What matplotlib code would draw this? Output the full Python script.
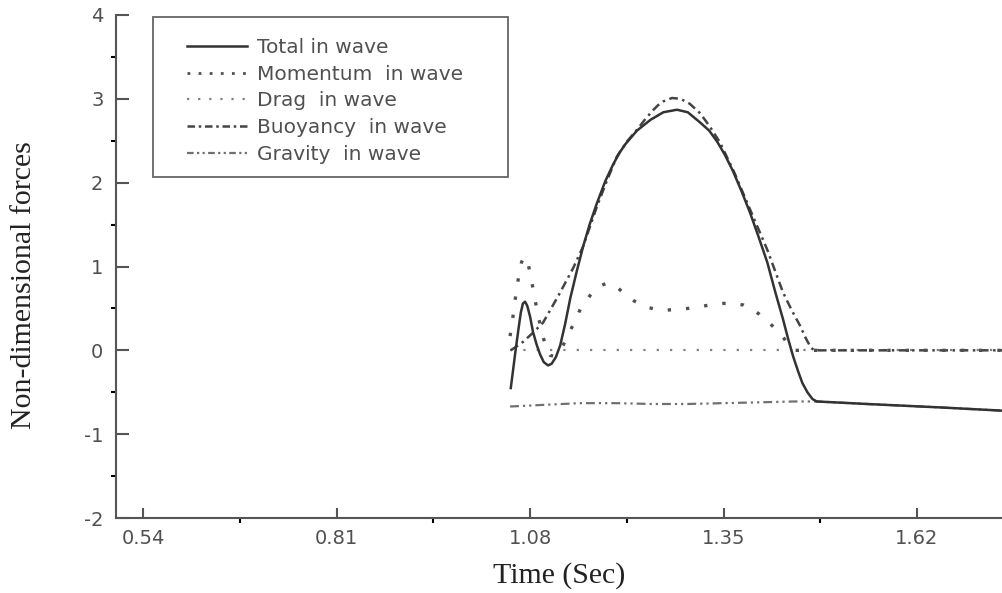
import matplotlib
matplotlib.use("Agg")
import matplotlib.pyplot as plt
from matplotlib.lines import Line2D
from matplotlib.patches import Rectangle

plt.rcParams["axes.unicode_minus"] = False

# data
total_t = [1.053, 1.056, 1.060, 1.064, 1.067, 1.070, 1.073, 1.076, 1.080, 1.084,
           1.089, 1.094, 1.099, 1.105, 1.110, 1.116, 1.122, 1.129, 1.136, 1.145,
           1.154, 1.163, 1.173, 1.185, 1.196, 1.205, 1.213, 1.229, 1.248, 1.266,
           1.285, 1.300, 1.317, 1.330, 1.341, 1.352, 1.363, 1.375, 1.387, 1.399,
           1.411, 1.422, 1.433, 1.440, 1.447, 1.454, 1.460, 1.467, 1.474, 1.480,
           1.55, 1.65, 1.74]
total_f = [-0.45, -0.25, 0.02, 0.27, 0.45, 0.56, 0.58, 0.53, 0.40, 0.22,
           0.07, -0.05, -0.14, -0.18, -0.16, -0.08, 0.06, 0.32, 0.62, 0.94,
           1.24, 1.50, 1.75, 2.02, 2.22, 2.36, 2.46, 2.62, 2.75, 2.84,
           2.87, 2.84, 2.72, 2.62, 2.49, 2.33, 2.14, 1.90, 1.64, 1.35,
           1.05, 0.70, 0.37, 0.14, -0.07, -0.25, -0.39, -0.50, -0.58, -0.61,
           -0.64, -0.68, -0.72]

mom_t = [1.052, 1.056, 1.060, 1.064, 1.068, 1.071, 1.074, 1.077, 1.081, 1.086,
         1.092, 1.098, 1.103, 1.108, 1.113, 1.119, 1.126, 1.138, 1.150, 1.165,
         1.178, 1.187, 1.197, 1.210, 1.225, 1.240, 1.255, 1.270, 1.290, 1.310,
         1.330, 1.350, 1.365, 1.378, 1.390, 1.400, 1.411, 1.422, 1.433, 1.443,
         1.450, 1.55, 1.65, 1.74]
mom_f = [0.17, 0.40, 0.66, 0.88, 1.05, 1.11, 1.11, 1.04, 0.88, 0.64,
         0.38, 0.16, 0.02, -0.06, -0.07, -0.03, 0.06, 0.27, 0.49, 0.67,
         0.77, 0.80, 0.78, 0.69, 0.59, 0.52, 0.49, 0.48, 0.49, 0.51,
         0.54, 0.56, 0.56, 0.54, 0.49, 0.43, 0.35, 0.26, 0.16, 0.03,
         0.0, 0.0, 0.0, 0.0]

drag_t = [1.052, 1.20, 1.35, 1.50, 1.74]
drag_f = [0.0, 0.0, 0.0, 0.0, 0.0]

buoy_t = [1.053, 1.070, 1.084, 1.098, 1.120, 1.140, 1.154, 1.173, 1.187, 1.201,
          1.215, 1.229, 1.240, 1.250, 1.258, 1.266, 1.278, 1.290, 1.303, 1.317,
          1.330, 1.345, 1.365, 1.387, 1.411, 1.433, 1.445, 1.457, 1.465, 1.472,
          1.477, 1.55, 1.65, 1.74]
buoy_f = [0.0, 0.10, 0.21, 0.33, 0.66, 0.98, 1.24, 1.71, 2.02, 2.31,
          2.49, 2.63, 2.75, 2.85, 2.92, 2.97, 3.01, 3.00, 2.94, 2.83,
          2.68, 2.48, 2.12, 1.68, 1.20, 0.69, 0.48, 0.29, 0.14, 0.03,
          0.0, 0.0, 0.0, 0.0]

grav_t = [1.052, 1.10, 1.15, 1.20, 1.25, 1.30, 1.35, 1.40, 1.45, 1.48, 1.55, 1.65, 1.74]
grav_f = [-0.67, -0.65, -0.63, -0.63, -0.64, -0.64, -0.63, -0.62, -0.61, -0.61, -0.64, -0.68, -0.72]

labels = ["Total in wave", "Momentum  in wave", "Drag  in wave",
          "Buoyancy  in wave", "Gravity  in wave"]
x_ticks = [0.54, 0.81, 1.08, 1.35, 1.62]
y_ticks = [-2, -1, 0, 1, 2, 3, 4]

fig = plt.figure(figsize=(10.03, 5.93), dpi=100)
ax = fig.add_axes([116/1003, 75/593, 887/1003, 503/593])

ax.plot(grav_t, grav_f, color="#707070", lw=1.6, dashes=(4, 1.8, 1, 1.8, 1, 1.8))
ax.plot(drag_t, drag_f, color="#808080", lw=1.6, dashes=(1, 5))
ax.plot(buoy_t, buoy_f, color="#444444", lw=1.8, dashes=(3.5, 1.8, 1, 1.8))
ax.plot(mom_t, mom_f, color="#505050", lw=2.4, dashes=(1, 4.5))
ax.plot(total_t, total_f, color="#333333", lw=1.8)

ax.set_xlim(0.502, 1.74)
ax.set_ylim(-2, 4)
ax.set_xticks(x_ticks)
ax.set_xticklabels([f"{v:.2f}" for v in x_ticks])
ax.set_xticks([0.675, 0.945, 1.215, 1.485], minor=True)
ax.set_yticks(y_ticks)
ax.set_yticks([-1.5, -0.5, 0.5, 1.5, 2.5, 3.5], minor=True)

for s in ["top", "right"]:
    ax.spines[s].set_visible(False)
for s in ["left", "bottom"]:
    ax.spines[s].set_color("#555555")
    ax.spines[s].set_linewidth(1.5)

ax.tick_params(direction="in", colors="#555555", labelcolor="#505050",
               labelsize=14, width=1.5)
ax.tick_params(axis="y", which="major", length=9.5, pad=9)
ax.tick_params(axis="y", which="minor", length=3.8, width=1.5)
ax.tick_params(axis="x", which="major", length=7.5, pad=8)
ax.tick_params(axis="x", which="minor", length=3.8, width=1.5)

ax.set_xlabel("Time (Sec)", family="Liberation Serif", fontsize=21.5, color="#222222")
ax.set_ylabel("Non-dimensional forces", family="Liberation Serif", fontsize=21.5, color="#222222")
ax.yaxis.set_label_coords(-0.089, 0.463)
ax.xaxis.set_label_coords(0.5, -0.088)

# legend: frame drawn separately so the padding matches
fig.patches.append(Rectangle((153/1003, (593-177)/593), 355/1003, 160/593,
                             transform=fig.transFigure, fill=False,
                             edgecolor="#666666", lw=1.3))
handles = [
    Line2D([], [], color="#333333", lw=1.8),
    Line2D([], [], color="#505050", lw=2.0, dashes=(1, 3)),
    Line2D([], [], color="#808080", lw=1.6, dashes=(1, 4)),
    Line2D([], [], color="#444444", lw=1.8, dashes=(3, 1.5, 1, 1.5)),
    Line2D([], [], color="#707070", lw=1.6, dashes=(3, 1.5, 1, 1.5, 1, 1.5)),
]
fig.legend(handles, labels, loc="upper left", bbox_to_anchor=(187/1003, (593-38)/593),
           frameon=False, borderpad=0, borderaxespad=0, handlelength=3.0,
           handletextpad=0.5, labelspacing=0.38, labelcolor="#505050",
           prop={"family": "DejaVu Sans", "size": 14.5})

fig.savefig("out.png", dpi=100)
